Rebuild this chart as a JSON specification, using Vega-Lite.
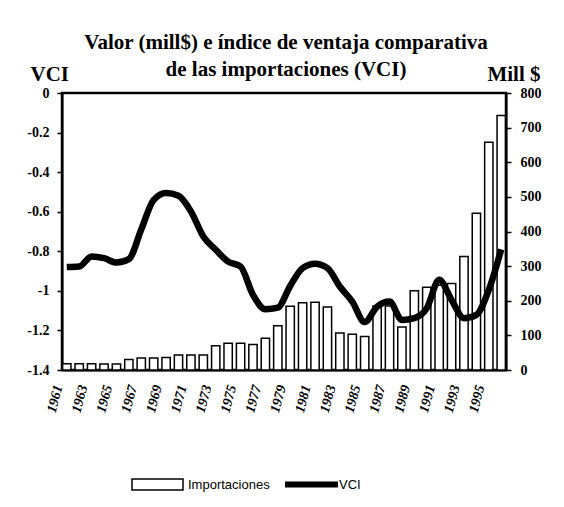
{
  "$schema": "https://vega.github.io/schema/vega-lite/v6.json",
  "width": 444,
  "height": 277,
  "autosize": {"type": "none"},
  "padding": {"left": 62, "top": 93, "right": 58, "bottom": 137},
  "background": "white",
  "title": {
    "text": ["Valor (mill$) e índice de ventaja comparativa", "de las importaciones (VCI)"],
    "font": "Liberation Serif",
    "fontSize": 21,
    "fontWeight": "bold",
    "color": "black",
    "lineHeight": 27,
    "anchor": "middle",
    "frame": "group",
    "offset": -17,
    "dx": 2
  },
  "data": {
    "values": [
      {"year": 1961, "imp": 18, "vci": -0.88},
      {"year": 1962, "imp": 18, "vci": -0.877},
      {"year": 1963, "imp": 18, "vci": -0.826},
      {"year": 1964, "imp": 17, "vci": -0.835},
      {"year": 1965, "imp": 17, "vci": -0.857},
      {"year": 1966, "imp": 30, "vci": -0.84},
      {"year": 1967, "imp": 35, "vci": -0.69},
      {"year": 1968, "imp": 35, "vci": -0.54},
      {"year": 1969, "imp": 36, "vci": -0.505},
      {"year": 1970, "imp": 43, "vci": -0.519},
      {"year": 1971, "imp": 43, "vci": -0.598},
      {"year": 1972, "imp": 43, "vci": -0.725},
      {"year": 1973, "imp": 70, "vci": -0.792},
      {"year": 1974, "imp": 77, "vci": -0.852},
      {"year": 1975, "imp": 77, "vci": -0.877},
      {"year": 1976, "imp": 74, "vci": -1.02},
      {"year": 1977, "imp": 92, "vci": -1.093},
      {"year": 1978, "imp": 128, "vci": -1.085},
      {"year": 1979, "imp": 184, "vci": -0.975},
      {"year": 1980, "imp": 194, "vci": -0.885},
      {"year": 1981, "imp": 196, "vci": -0.863},
      {"year": 1982, "imp": 182, "vci": -0.885},
      {"year": 1983, "imp": 107, "vci": -0.978},
      {"year": 1984, "imp": 103, "vci": -1.054},
      {"year": 1985, "imp": 97, "vci": -1.158},
      {"year": 1986, "imp": 185, "vci": -1.08},
      {"year": 1987, "imp": 185, "vci": -1.054},
      {"year": 1988, "imp": 124, "vci": -1.147},
      {"year": 1989, "imp": 229, "vci": -1.138},
      {"year": 1990, "imp": 239, "vci": -1.088},
      {"year": 1991, "imp": 245, "vci": -0.944},
      {"year": 1992, "imp": 250, "vci": -1.046},
      {"year": 1993, "imp": 328, "vci": -1.138},
      {"year": 1994, "imp": 453, "vci": -1.121},
      {"year": 1995, "imp": 658, "vci": -0.995},
      {"year": 1996, "imp": 735, "vci": -0.79}
    ]
  },
  "encoding": {
    "x": {
      "field": "year",
      "type": "ordinal",
      "scale": {"paddingInner": 0.33, "paddingOuter": 0.05},
      "axis": {
        "title": null,
        "values": [1961, 1963, 1965, 1967, 1969, 1971, 1973, 1975, 1977, 1979, 1981, 1983, 1985, 1987, 1989, 1991, 1993, 1995],
        "labelAngle": -75,
        "labelFont": "Liberation Serif",
        "labelFontWeight": "bold",
        "labelFontStyle": "italic",
        "labelFontSize": 14,
        "labelColor": "black",
        "ticks": false,
        "labelPadding": 15,
        "labelOffset": -8,
        "domainColor": "black",
        "domainWidth": 2
      }
    }
  },
  "layer": [
    {
      "mark": {"type": "bar", "stroke": "black", "strokeWidth": 1.5},
      "encoding": {
        "y": {
          "field": "imp",
          "type": "quantitative",
          "scale": {"domain": [0, 800], "nice": false},
          "axis": {
            "orient": "right",
            "title": "Mill $",
            "titleAngle": 0,
            "titleAlign": "right",
            "titleBaseline": "alphabetic",
            "titleX": 34,
            "titleY": -13,
            "titleFont": "Liberation Serif",
            "titleFontSize": 21,
            "titleFontWeight": "bold",
            "titleColor": "black",
            "values": [0, 100, 200, 300, 400, 500, 600, 700, 800],
            "format": "d",
            "grid": false,
            "labelFont": "Liberation Serif",
            "labelFontSize": 14,
            "labelFontWeight": "bold",
            "labelColor": "black",
            "labelPadding": 9,
            "tickSize": 5,
            "tickColor": "black",
            "tickWidth": 1.5,
            "domainColor": "black",
            "domainWidth": 2
          }
        },
        "fill": {
          "datum": "Importaciones",
          "scale": {"range": ["white"]},
          "legend": {
            "title": null,
            "orient": "none",
            "legendX": 69,
            "legendY": 365,
            "padding": 0,
            "symbolType": "M-1,-0.22H1V0.22H-1Z",
            "symbolSize": 2601,
            "symbolStrokeColor": "black",
            "symbolStrokeWidth": 1.5,
            "symbolFillColor": "white",
            "labelFont": "Liberation Sans",
            "labelFontSize": 13,
            "labelColor": "black",
            "labelOffset": 4
          }
        }
      }
    },
    {
      "mark": {"type": "line", "strokeWidth": 6.5, "interpolate": "monotone"},
      "encoding": {
        "y": {
          "field": "vci",
          "type": "quantitative",
          "scale": {"domain": [-1.4, 0], "nice": false},
          "axis": {
            "orient": "left",
            "title": "VCI",
            "titleAngle": 0,
            "titleAlign": "left",
            "titleBaseline": "alphabetic",
            "titleX": -32,
            "titleY": -13,
            "titleFont": "Liberation Serif",
            "titleFontSize": 21,
            "titleFontWeight": "bold",
            "titleColor": "black",
            "values": [0, -0.2, -0.4, -0.6, -0.8, -1, -1.2, -1.4],
            "labelExpr": "replace(format(datum.value, '~g'), '−', '-')",
            "grid": false,
            "labelFont": "Liberation Serif",
            "labelFontSize": 14,
            "labelFontWeight": "bold",
            "labelColor": "black",
            "labelPadding": 8,
            "tickSize": 5,
            "tickColor": "black",
            "tickWidth": 1.5,
            "domainColor": "black",
            "domainWidth": 2
          }
        },
        "stroke": {
          "datum": "VCI",
          "scale": {"range": ["black"]},
          "legend": {
            "title": null,
            "orient": "none",
            "legendX": 220,
            "legendY": 362,
            "padding": 0,
            "symbolType": "stroke",
            "symbolSize": 2809,
            "symbolStrokeWidth": 6,
            "symbolStrokeColor": "black",
            "labelFont": "Liberation Sans",
            "labelFontSize": 13,
            "labelColor": "black",
            "labelOffset": -2
          }
        }
      }
    }
  ],
  "resolve": {"scale": {"y": "independent"}},
  "config": {
    "view": {"stroke": "black", "strokeWidth": 2.5}
  }
}
